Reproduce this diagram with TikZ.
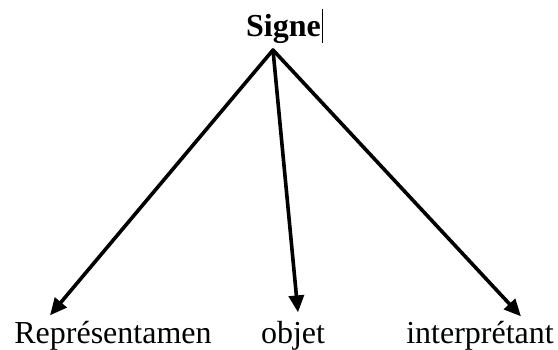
\documentclass[tikz,border=0pt]{standalone}
\usepackage{fontspec}
\setmainfont{Liberation Serif}
\usetikzlibrary{arrows.meta,calc}

\begin{document}
\begin{tikzpicture}[x=0.5pt,y=-0.5pt,
    every node/.style={inner sep=0pt,anchor=base,font=\fontsize{16}{19}\selectfont},
    branch/.style={line width=1.8pt,line cap=round,-{Triangle[length=8.5pt,width=7.5pt]}}]
  \useasboundingbox (0,0) rectangle (558,349);

  % top
  \node[font=\fontsize{16}{19}\selectfont\bfseries] (signe) at (283.5,36) {Signe};
  \draw[line width=0.5pt] (322,9) -- (322,43);
  \coordinate (apex) at (273,50);

  % bottom labels
  \node (rep) at (113,343) {Représentamen};
  \node (obj) at (293,343) {objet};
  \node (int) at (480,343) {interprétant};

  \draw[branch] (apex) -- ($(rep.north)+(-63,-5)$);
  \draw[branch] (apex) -- ($(obj.north)+(5,-8)$);
  \draw[branch] (apex) -- ($(int.north)+(41,-4)$);
\end{tikzpicture}
\end{document}
